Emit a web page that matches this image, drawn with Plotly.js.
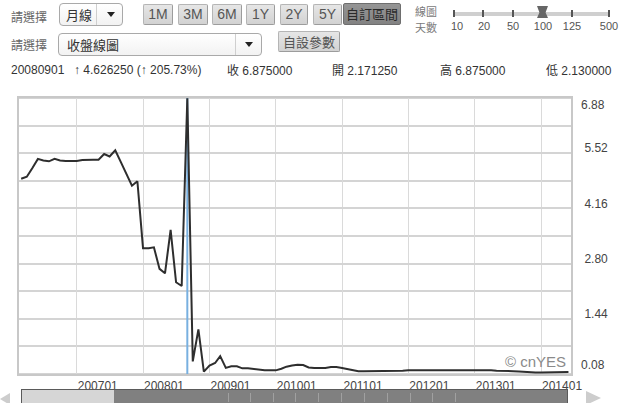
<!DOCTYPE html>
<html>
<head>
<meta charset="utf-8">
<script src="https://cdn.plot.ly/plotly-3.0.1.min.js"></script>
<style>
  html, body { margin:0; padding:0; background:#fff; }
  body { font-family: "Liberation Sans", Arial, "Noto Sans CJK TC", sans-serif; }
  #wrap { position:relative; width:620px; height:403px; overflow:hidden; background:#fff; }
  #gridbox { position:absolute; left:0; top:0; width:620px; height:403px; }
  #chart { position:absolute; left:0; top:0; width:620px; height:403px; }
  .ov { position:absolute; white-space:nowrap; }
  .cjk { font-family: "Noto Sans CJK TC", "Liberation Sans", sans-serif; }
  .lbl { font-size:12px; color:#666; line-height:14px; }
  .sel { border:1px solid #a9a9a9; border-radius:4px; background:linear-gradient(#ffffff,#f2f2f2); box-sizing:border-box; }
  .sel .t { position:absolute; left:6px; top:3px; font-size:13px; color:#333; line-height:15px; }
  .sel .sep { position:absolute; top:0; bottom:0; width:1px; background:#cfcfcf; }
  .sel .arr { position:absolute; top:8px; width:0; height:0; border-left:4px solid transparent; border-right:4px solid transparent; border-top:5px solid #222; }
  .btn { box-sizing:border-box; height:21px; border:1px solid #b5b5b5; border-right-color:#9c9c9c; border-bottom-color:#9c9c9c; border-radius:2px;
         background:linear-gradient(#e6e6e6,#d2d2d2); color:#555; font-size:14px; line-height:19px; text-align:center; }
  .btn.on { background:linear-gradient(#959595,#828282); color:#2a2a2a; border-color:#6e6e6e; }
  .info { font-size:12px; color:#333; line-height:14px; top:63px; }
  .stk { background:#555; width:2px; height:7px; top:10px; }
  .slab { font-size:11px; color:#555; top:20px; line-height:12px; transform:translateX(-50%); font-family:"Liberation Sans Narrow","Liberation Sans",Arial,sans-serif; }
  .sbtick { position:absolute; top:3px; width:1px; height:9px; background:#a0a0a0; }
  .gl { position:absolute; }
</style>
</head>
<body>
<div id="wrap">
  <div id="gridbox"></div>
  <div id="chart"></div>

  <!-- row 1 -->
  <div class="ov lbl cjk" style="left:11px; top:10px;">請選擇</div>
  <div class="ov sel" style="left:59px; top:3px; width:64px; height:23px;">
    <div class="t cjk">月線</div>
    <div class="sep" style="left:36px;"></div>
    <div class="arr" style="left:47px;"></div>
  </div>
  <div class="ov btn" style="left:143px; top:4px; width:30px;">1M</div>
  <div class="ov btn" style="left:178px; top:4px; width:30px;">3M</div>
  <div class="ov btn" style="left:212px; top:4px; width:30px;">6M</div>
  <div class="ov btn" style="left:246px; top:4px; width:29px;">1Y</div>
  <div class="ov btn" style="left:280px; top:4px; width:28px;">2Y</div>
  <div class="ov btn" style="left:313px; top:4px; width:29px;">5Y</div>
  <div class="ov btn on cjk" style="left:343px; top:3px; width:58px; height:22px; font-size:13px;">自訂區間</div>

  <!-- slider -->
  <div class="ov cjk" style="left:415px; top:6px; font-size:11px; color:#7a7a7a; line-height:11px;">線圖</div>
  <div class="ov cjk" style="left:415px; top:22px; font-size:11px; color:#7a7a7a; line-height:11px;">天數</div>
  <div class="ov" style="left:453px; top:12px; width:157px; height:4px; background:#cfcfcf;"></div>
  <div class="ov stk" style="left:453px;"></div>
  <div class="ov stk" style="left:482px;"></div>
  <div class="ov stk" style="left:512px;"></div>
  <div class="ov stk" style="left:571px;"></div>
  <div class="ov stk" style="left:608px;"></div>
  <div class="ov" style="left:537px; top:6px; width:11px; height:12px; background:#666; clip-path:polygon(0 0,100% 0,78% 55%,100% 100%,0 100%,22% 55%);"></div>
  <div class="ov slab" style="left:457px;">10</div>
  <div class="ov slab" style="left:484px;">20</div>
  <div class="ov slab" style="left:513px;">50</div>
  <div class="ov slab" style="left:543px;">100</div>
  <div class="ov slab" style="left:572px;">125</div>
  <div class="ov slab" style="left:609px;">500</div>

  <!-- row 2 -->
  <div class="ov lbl cjk" style="left:11px; top:38px;">請選擇</div>
  <div class="ov sel" style="left:58px; top:33px; width:204px; height:23px;">
    <div class="t cjk" style="left:8px;">收盤線圖</div>
    <div class="sep" style="left:176px;"></div>
    <div class="arr" style="left:186px;"></div>
  </div>
  <div class="ov btn cjk" style="left:278px; top:31px; width:62px; height:21px; font-size:13px;">自設參數</div>

  <!-- row 3 info -->
  <div class="ov info" id="i0" style="left:11px;"></div>
  <div class="ov info" id="i1" style="left:74px;"></div>
  <div class="ov info" id="i2" style="left:227px;"></div>
  <div class="ov info" id="i3" style="left:332px;"></div>
  <div class="ov info" id="i4" style="left:440px;"></div>
  <div class="ov info" id="i5" style="left:546px;"></div>

  <!-- bottom scrollbar -->
  <div class="ov" style="left:0px; top:393px; width:0; height:0; border-top:6px solid transparent; border-bottom:6px solid transparent; border-right:10px solid #cdcdcd;"></div>
  <div class="ov" style="left:21px; top:389px; width:547px; height:16px; box-sizing:border-box; border:1px solid #5a5a5a; background:#808080;">
    <div style="position:absolute; left:0; top:0; width:92px; height:16px; background:#d6d6d6;"></div>
    <div class="sbtick" style="left:206px;"></div>
    <div class="sbtick" style="left:228px;"></div>
    <div class="sbtick" style="left:251px;"></div>
    <div class="sbtick" style="left:273px;"></div>
    <div class="sbtick" style="left:296px;"></div>
    <div class="sbtick" style="left:319px;"></div>
    <div class="sbtick" style="left:342px;"></div>
    <div class="sbtick" style="left:365px;"></div>
    <div class="sbtick" style="left:388px;"></div>
    <div class="sbtick" style="left:410px;"></div>
    <div class="sbtick" style="left:433px;"></div>
  </div>
  <div class="ov" style="left:586px; top:391px; width:0; height:0; border-top:7px solid transparent; border-bottom:7px solid transparent; border-left:15px solid #cdcdcd;"></div>
</div>

<script>
// ---- data (monthly close, Mar 2006 .. Jun 2014) ----
const startYear = 2006;
const startMonth = 3;
const closeValues = [
  4.89, 4.94, 5.15, 5.38, 5.34, 5.32, 5.38, 5.34, 5.33, 5.33,
  5.33, 5.35, 5.36, 5.36, 5.36, 5.50, 5.44, 5.59, 5.30, 5.02, 4.72, 4.83,
  3.18, 3.18, 3.20, 2.67, 2.56, 3.63, 2.34, 2.24875, 6.875, 0.39, 1.18, 0.14,
  0.29, 0.35, 0.52, 0.23, 0.27, 0.27, 0.22, 0.22, 0.20, 0.18, 0.17, 0.17,
  0.17, 0.21, 0.26, 0.29, 0.31, 0.30, 0.24, 0.23, 0.23, 0.23, 0.25, 0.25,
  0.23, 0.20, 0.17, 0.15, 0.15, 0.15, 0.15, 0.16, 0.16, 0.16, 0.16, 0.16,
  0.17, 0.17, 0.17, 0.18, 0.18, 0.18, 0.18, 0.17, 0.17, 0.17, 0.18, 0.18,
  0.18, 0.17, 0.17, 0.17, 0.16, 0.16, 0.15, 0.15, 0.14, 0.13, 0.12, 0.12,
  0.12, 0.12, 0.12, 0.12, 0.12, 0.13
];
const xTickLabels = ['200701','200801','200901','201001','201101','201201','201301','201401'];
const yTickValues = [0.08, 1.44, 2.80, 4.16, 5.52, 6.88];
const yGridStep = 0.68;
const xRange = ['2006-02-17', '2014-06-15'];
const selectedLabel = '20080901';
const selectedOpen = 2.171250;
const selectedHigh = 6.875000;
const selectedLow = 2.130000;

// ---- derived ----
const dates = closeValues.map((_, i) => {
  const t = startMonth - 1 + i;
  const y = startYear + Math.floor(t / 12);
  const m = (t % 12) + 1;
  return y + '-' + String(m).padStart(2, '0') + '-01';
});
const xTickVals = xTickLabels.map(s => s.slice(0,4) + '-' + s.slice(4,6) + '-01');
const selDate = selectedLabel.slice(0,4) + '-' + selectedLabel.slice(4,6) + '-01';
const selIdx = dates.indexOf(selDate);
const selClose = closeValues[selIdx];
const prevClose = closeValues[selIdx - 1];
const chg = selClose - prevClose;
const pct = chg / prevClose * 100;

document.getElementById('i0').textContent = selectedLabel;
document.getElementById('i1').textContent = '\u2191 ' + chg.toFixed(6) + ' (\u2191 ' + pct.toFixed(2) + '%)';
document.getElementById('i2').innerHTML = '<span class="cjk">收</span> ' + selClose.toFixed(6);
document.getElementById('i3').innerHTML = '<span class="cjk">開</span> ' + selectedOpen.toFixed(6);
document.getElementById('i4').innerHTML = '<span class="cjk">高</span> ' + selectedHigh.toFixed(6);
document.getElementById('i5').innerHTML = '<span class="cjk">低</span> ' + selectedLow.toFixed(6);

const fontFam = '"Liberation Sans", Arial, sans-serif';
const yMin = yTickValues[0], yMax = yTickValues[yTickValues.length - 1];
const midTicks = yTickValues.slice(1, -1);
const tfont = { family: fontFam, size: 12, color: '#444' };
const hGridColor = '#d4d4d4';
const vGridColor = '#dadada';

const nGrid = Math.round((yMax - yMin) / yGridStep);
const gridLevels = [];
for (let k = 0; k <= nGrid; k++) gridLevels.push(+(yMin + k * yGridStep).toFixed(2));

const highlight = {
  x: [selDate, selDate], y: [yMin, yMax], type: 'scatter', mode: 'lines',
  line: { color: '#78b0e0', width: 2 }, hoverinfo: 'skip', showlegend: false
};
const trace = {
  x: dates, y: closeValues, type: 'scatter', mode: 'lines',
  line: { color: '#2e2e2e', width: 2 }, hoverinfo: 'skip', showlegend: false
};
const helperTop = { x: [dates[0]], y: [yMax], yaxis: 'y2', mode: 'markers', marker: { opacity: 0 }, hoverinfo: 'skip', showlegend: false };
const helperBot = { x: [dates[0]], y: [yMin], yaxis: 'y3', mode: 'markers', marker: { opacity: 0 }, hoverinfo: 'skip', showlegend: false };

const layout = {
  width: 620, height: 403,
  margin: { l: 19, r: 49, t: 98, b: 29 },
  paper_bgcolor: 'rgba(0,0,0,0)', plot_bgcolor: 'rgba(0,0,0,0)',
  font: { family: fontFam, size: 12, color: '#444' },
  xaxis: {
    type: 'date',
    range: xRange,
    tickvals: xTickVals, ticktext: xTickLabels,
    ticks: '', showgrid: true, gridcolor: vGridColor, gridwidth: 1,
    zeroline: false, showline: true, mirror: true, linecolor: '#c8c8c8', linewidth: 2,
    ticklabelshift: 21, ticklabelstandoff: 0,
    tickfont: tfont,
    fixedrange: true
  },
  yaxis: {
    side: 'right',
    range: [yMin, yMax],
    tickvals: midTicks, ticktext: midTicks.map(v => v.toFixed(2)),
    ticks: '', showgrid: true, gridcolor: hGridColor, gridwidth: 2,
    minor: { tickmode: 'linear', tick0: yMin, dtick: yGridStep, showgrid: true, gridcolor: hGridColor, gridwidth: 2 },
    zeroline: false, showline: true, mirror: true, linecolor: '#c8c8c8', linewidth: 2,
    ticklabelshift: -5, ticklabelstandoff: 9,
    tickfont: tfont,
    fixedrange: true
  },
  yaxis2: {
    overlaying: 'y', side: 'right', range: [yMin, yMax],
    tickvals: [yMax], ticktext: [yMax.toFixed(2)],
    ticks: '', showgrid: false, zeroline: false, showline: false,
    ticklabelshift: 7, ticklabelstandoff: 9, tickfont: tfont, fixedrange: true
  },
  yaxis3: {
    overlaying: 'y', side: 'right', range: [yMin, yMax],
    tickvals: [yMin], ticktext: [yMin.toFixed(2)],
    ticks: '', showgrid: false, zeroline: false, showline: false,
    ticklabelshift: -9, ticklabelstandoff: 9, tickfont: tfont, fixedrange: true
  },
  annotations: [
    { text: '\u00a9 cnYES', xref: 'paper', yref: 'paper', x: 1, y: 0,
      xanchor: 'right', yanchor: 'bottom', xshift: -3, yshift: 2, showarrow: false,
      font: { family: fontFam, size: 15, color: '#8a8a8a' } }
  ]
};

Plotly.newPlot('chart', [highlight, trace, helperTop, helperBot], layout, { staticPlot: true, displayModeBar: false })
  .then(function (gd) {
    // grid backdrop placed beneath the (transparent) chart, positioned with the chart's own axis scales
    const fl = gd._fullLayout;
    const xa = fl.xaxis, ya = fl.yaxis;
    if (!xa || !ya || typeof xa.l2p !== 'function') return;
    const box = document.getElementById('gridbox');
    gridLevels.forEach(v => {
      const py = ya._offset + ya.l2p(ya.d2l(v));
      const d = document.createElement('div');
      d.className = 'gl';
      d.style.cssText = 'left:' + xa._offset + 'px;top:' + (py - 1) + 'px;width:' + xa._length + 'px;height:2px;background:' + hGridColor + ';';
      box.appendChild(d);
    });
    xTickVals.forEach(dv => {
      const px = xa._offset + xa.l2p(xa.d2l(dv));
      const d = document.createElement('div');
      d.className = 'gl';
      d.style.cssText = 'left:' + Math.round(px - 0.5) + 'px;top:' + ya._offset + 'px;width:1px;height:' + ya._length + 'px;background:' + vGridColor + ';';
      box.appendChild(d);
    });
  });
</script>
</body>
</html>
